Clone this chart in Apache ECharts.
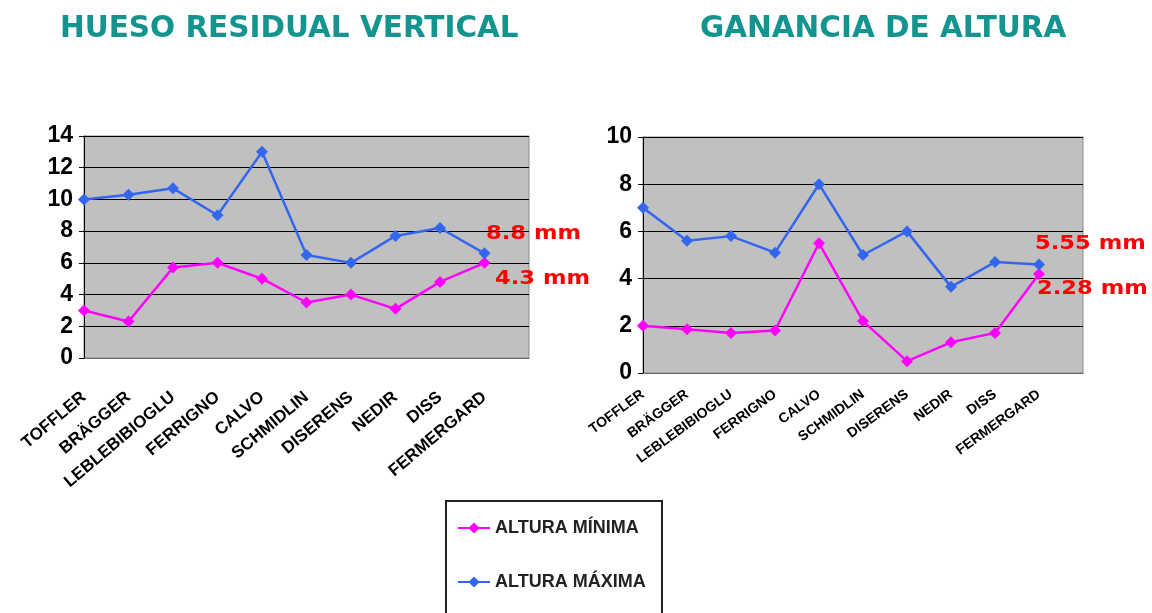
<!DOCTYPE html>
<html><head><meta charset="utf-8">
<script src="https://cdn.jsdelivr.net/npm/echarts@6/dist/echarts.min.js"></script>
<style>html,body{margin:0;padding:0;background:#fff}#c{width:1152px;height:613px}</style>
</head><body><div id="c"></div>
<script>
const categories = ['TOFFLER','BRÄGGER','LEBLEBIBIOGLU','FERRIGNO','CALVO','SCHMIDLIN','DISERENS','NEDIR','DISS','FERMERGARD',''];
const seriesNames = ['ALTURA MÍNIMA','ALTURA MÁXIMA'];
const huesoMin = [3.0, 2.3, 5.7, 6.0, 5.0, 3.5, 4.0, 3.1, 4.8, 6.0];
const huesoMax = [10.0, 10.3, 10.7, 9.0, 13.0, 6.5, 6.0, 7.7, 8.2, 6.6];
const gananciaMin = [2.0, 1.85, 1.7, 1.8, 5.5, 2.2, 0.5, 1.3, 1.7, 4.2];
const gananciaMax = [7.0, 5.6, 5.8, 5.1, 8.0, 5.0, 6.0, 3.65, 4.7, 4.6];
const titles = ['HUESO RESIDUAL VERTICAL','GANANCIA DE ALTURA'];
const notes = ['8.8 mm','4.3 mm','5.55 mm','2.28 mm'];

const PINK = '#ff00ff', BLUE = '#3366ee', TEAL = '#13948f', RED = '#ff0000';
const chart = echarts.init(document.getElementById('c'), null, {renderer:'canvas'});

function yAxis(gi, max, interval, size) {
  return {
    type:'value', gridIndex:gi, min:0, max:max, interval:interval,
    axisLine:{show:true, lineStyle:{color:'#000', width:1}},
    axisTick:{show:true, inside:false, length:5, lineStyle:{color:'#000'}},
    axisLabel:{color:'#000', fontFamily:'Liberation Sans', fontWeight:'bold', fontSize:size, margin:11},
    splitLine:{show:true, lineStyle:{color:'#000', width:1}}
  };
}
function xAxis(gi, rotate, margin, size) {
  return {
    type:'category', gridIndex:gi, data:categories, boundaryGap:false,
    axisLine:{show:true, lineStyle:{color:'#666'}},
    axisTick:{show:false},
    axisLabel:{interval:0, rotate:rotate, margin:margin, color:'#000', fontFamily:'Liberation Sans', fontWeight:'bold', fontSize:size},
    splitLine:{show:false}
  };
}
function line(name, xi, data, color) {
  return {
    name:name, type:'line', xAxisIndex:xi, yAxisIndex:xi, data:data,
    symbol:'diamond', symbolSize:12, color:color,
    lineStyle:{color:color, width:2.5}, itemStyle:{color:color},
    animation:false, z:3
  };
}
function note(text, x, y) {
  return {type:'text', x:x, y:y, scaleX:1.13,
    style:{text:text, fill:RED, font:'bold 20px "DejaVu Sans"', verticalAlign:'middle', align:'left'}};
}

chart.setOption({
  backgroundColor:'#fff',
  animation:false,
  title:[
    {text:titles[0], left:55, top:9, textStyle:{color:TEAL, fontFamily:'DejaVu Sans', fontWeight:'bold', fontSize:29.5}},
    {text:titles[1], left:695, top:9, textStyle:{color:TEAL, fontFamily:'DejaVu Sans', fontWeight:'bold', fontSize:29.5}}
  ],
  grid:[
    {left:84, width:445, top:136, height:222, show:true, backgroundColor:'#c0c0c0', borderColor:'#8a8a8a', borderWidth:1},
    {left:643, width:440, top:137, height:236, show:true, backgroundColor:'#c0c0c0', borderColor:'#8a8a8a', borderWidth:1}
  ],
  xAxis:[ xAxis(0, 40, 37, 17), xAxis(1, 36, 20, 14) ],
  yAxis:[ yAxis(0, 14, 2, 23), yAxis(1, 10, 2, 23) ],
  legend:{
    orient:'vertical', left:445, top:500, data:seriesNames,
    padding:[18, 22, 0, 12], itemGap:34, itemWidth:32, itemHeight:14,
    textStyle:{color:'#222', fontFamily:'Liberation Sans', fontWeight:'bold', fontSize:18, lineHeight:20}
  },
  series:[
    line(seriesNames[0], 0, huesoMin, PINK),
    line(seriesNames[1], 0, huesoMax, BLUE),
    line(seriesNames[0], 1, gananciaMin, PINK),
    line(seriesNames[1], 1, gananciaMax, BLUE)
  ],
  graphic:[
    {type:'rect', shape:{x:446, y:501, width:216, height:130}, style:{fill:'#fff', stroke:'#222', lineWidth:2}, z:-1},
    note(notes[0], 486, 234),
    note(notes[1], 495, 279),
    note(notes[2], 1035, 244),
    note(notes[3], 1037, 289)
  ]
});
</script></body></html>
